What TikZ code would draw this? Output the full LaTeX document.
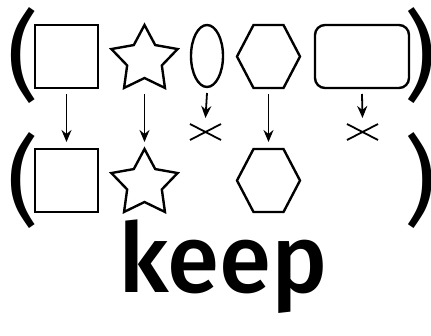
\documentclass[tikz,border=0pt]{standalone}
\usepackage{fontspec}
\setmainfont{Fira Sans}
\newfontfamily\wordfont{Fira Sans Medium}
\usetikzlibrary{arrows.meta,shapes.geometric,calc}
\tikzset{
 shp/.style={draw, line width=2.4pt, inner sep=0pt, outer sep=0pt},
 ghost/.style={inner sep=0pt, outer sep=0pt},
 conn/.style={line width=1.8pt, -{Stealth[length=12pt,width=10pt]}},
 xmark/.style={line width=1.8pt},
 paren/.style={font=\fontsize{97}{97}\selectfont, inner sep=0pt},
 word/.style={font=\fontsize{86}{86}\wordfont, inner sep=0pt},
}
\begin{document}
\begin{tikzpicture}[x=1pt,y=-1pt]
\useasboundingbox (0,0) rectangle (431,335);
\fill[white] (0,0) rectangle (431,335);
% parentheses
\node[paren] (lp1) at (23,56) {(};
\node[paren] (rp1) at (420,56) {)};
\node[paren] (lp2) at (23,180.5) {(};
\node[paren] (rp2) at (420,180.5) {)};
% top row
\node[shp, minimum width=63pt, minimum height=63pt] (sq1) at (66.5,56.5) {};
\node[shp, star, star points=5, star point ratio=1.91, minimum size=69.6pt] (st1) at (144.5,59.8) {};
\node[shp, ellipse, minimum width=32pt, minimum height=62pt] (el1) at (207,56) {};
\node[ghost, minimum width=63pt, minimum height=63pt] (hx1) at (268.5,56.5) {};
\draw[shp] (hx1.west) -- ([xshift=16.5pt]hx1.north west) -- ([xshift=-16.5pt]hx1.north east) -- (hx1.east) -- ([xshift=-16.5pt]hx1.south east) -- ([xshift=16.5pt]hx1.south west) -- cycle;
\node[shp, rounded corners=10pt, minimum width=94pt, minimum height=63pt] (rr1) at (362,56.5) {};
% bottom row
\node[shp, minimum width=63pt, minimum height=63pt] (sq2) at (66.5,180.5) {};
\node[shp, star, star points=5, star point ratio=1.91, minimum size=69.6pt] (st2) at (144.5,183.8) {};
\node[ghost, minimum width=63pt, minimum height=63pt] (hx2) at (268.5,180.5) {};
\draw[shp] (hx2.west) -- ([xshift=16.5pt]hx2.north west) -- ([xshift=-16.5pt]hx2.north east) -- (hx2.east) -- ([xshift=-16.5pt]hx2.south east) -- ([xshift=16.5pt]hx2.south west) -- cycle;
% crosses
\node[ghost, minimum width=31pt, minimum height=16pt] (x1) at (205.5,132) {};
\draw[xmark] (x1.north west) -- (x1.south east) (x1.south west) -- (x1.north east);
\node[ghost, minimum width=31pt, minimum height=16pt] (x2) at (362.5,132) {};
\draw[xmark] (x2.north west) -- (x2.south east) (x2.south west) -- (x2.north east);
% connectors
\draw[conn] ([yshift=-6pt]sq1.south) -- ([yshift=7pt]sq2.north);
\draw[conn] ($(st1.center |- sq1.south)+(0,6)$) -- ($(st2.center |- sq2.north)+(0,-7)$);
\draw[conn] ([yshift=-6pt]el1.south) -- ([yshift=6pt]x1.north);
\draw[conn] ([yshift=-6pt]hx1.south) -- ([yshift=7pt]hx2.north);
\draw[conn] ([yshift=-6pt]rr1.south) -- ([yshift=6pt]x2.north);
% word
\node[word, anchor=base] (kw) at (223,292) {\scalebox{1.1}[1.12]{keep}};
\end{tikzpicture}
\end{document}
